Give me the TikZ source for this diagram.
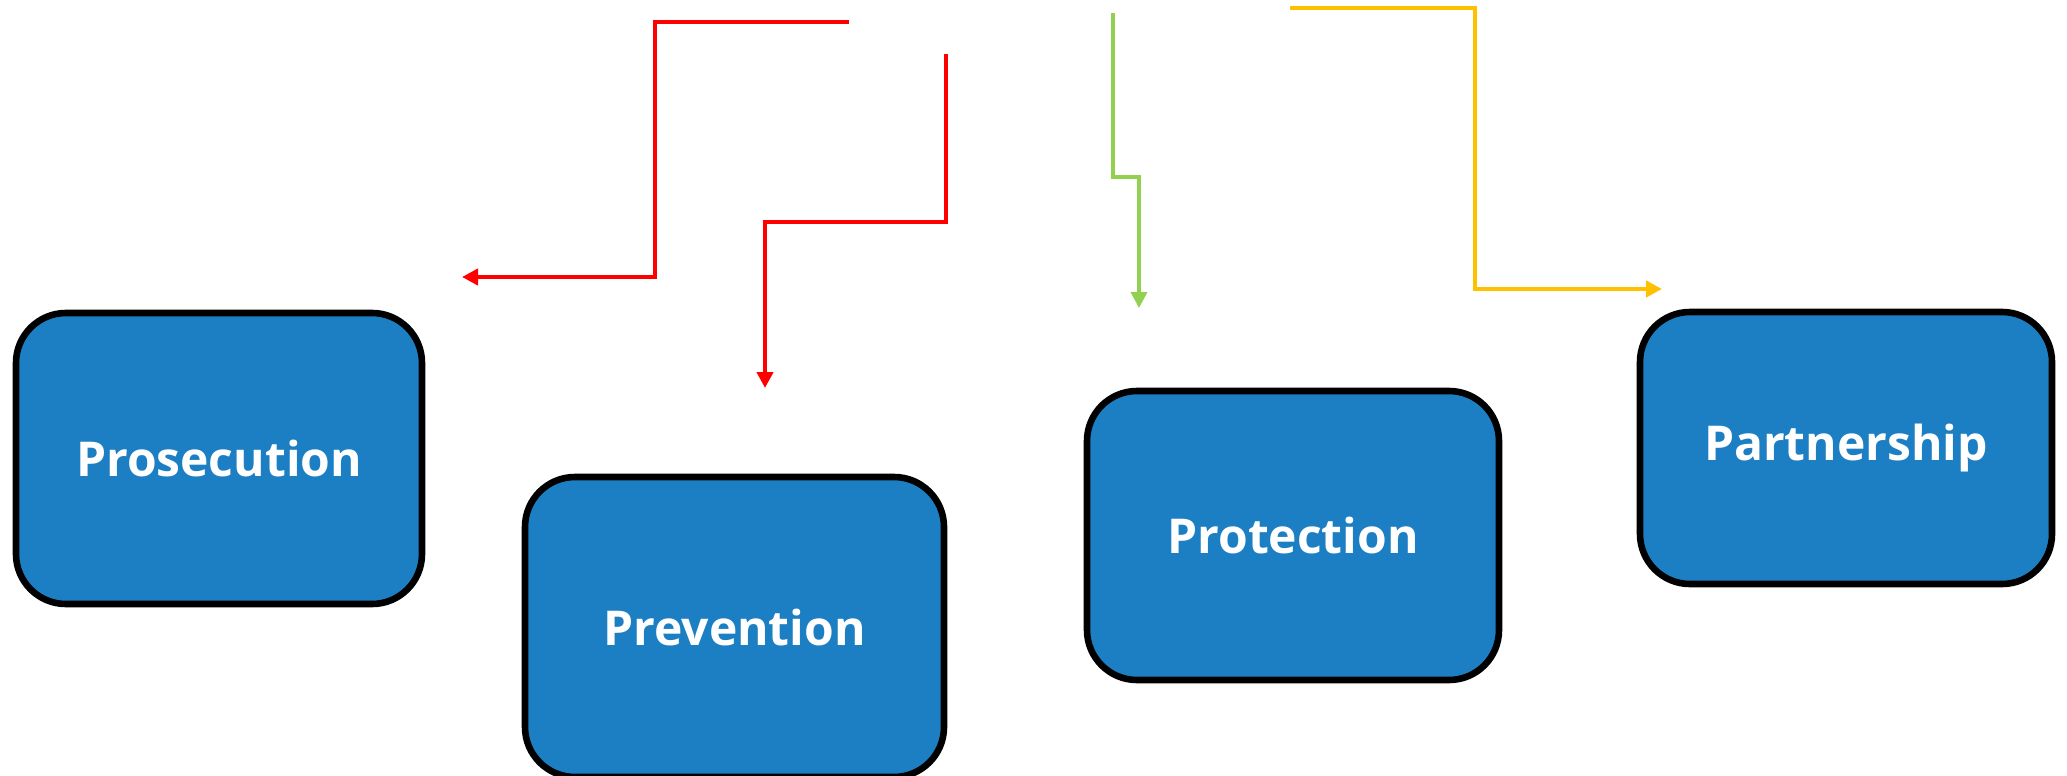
\documentclass[tikz,border=0pt]{standalone}
\usepackage{fontspec}
\setmainfont{Open Sans}
\usetikzlibrary{arrows.meta}
\definecolor{boxblue}{HTML}{1D7FC3}
\definecolor{flowred}{HTML}{FF0000}
\definecolor{flowgreen}{HTML}{92D050}
\definecolor{flowgold}{HTML}{FFC000}
\begin{document}
\begin{tikzpicture}[x=0.5pt, y=-0.5pt,
  pillar/.style={draw=black, line width=3.3pt, fill=boxblue, rounded corners=25pt,
    text=white, font=\fontsize{24}{28}\selectfont\bfseries, inner sep=0pt},
  flow/.style={line width=2pt, -{Triangle[length=8pt, width=8pt]}}
]
\useasboundingbox (0,0) rectangle (2067,776);

% the four pillars
\node[pillar, minimum width=203pt, minimum height=145.5pt] (pros) at (219,458.5) {Prosecution};
\node[pillar, minimum width=209.5pt, minimum height=150pt] (prev) at (734.5,627) {Prevention};
\node[pillar, minimum width=206pt, minimum height=144.5pt] (prot) at (1293,535.5) {Protection};
\node[pillar, minimum width=206pt, minimum height=136pt] (part) at (1846,448) {Partnership};

% connector end points
\coordinate (r1s) at (849,22);
\coordinate (r1e) at (462,277);
\coordinate (r2s) at (946,54);
\coordinate (r2e) at (765,388);
\coordinate (gs) at (1113,13);
\coordinate (ge) at (1139,308);
\coordinate (ys) at (1290,8);
\coordinate (ye) at (1662,289);

% elbow arrows
\draw[flow, draw=flowred] (r1s) -- (655,22) -- (655,277) -- (r1e);
\draw[flow, draw=flowred] (r2s) -- (946,222) -- (765,222) -- (r2e);
\draw[flow, draw=flowgreen, line width=1.75pt] (gs) -- (1113,177) -- (1139,177) -- (ge);
\draw[flow, draw=flowgold] (ys) -- (1475,8) -- (1475,289) -- (ye);
\end{tikzpicture}
\end{document}
